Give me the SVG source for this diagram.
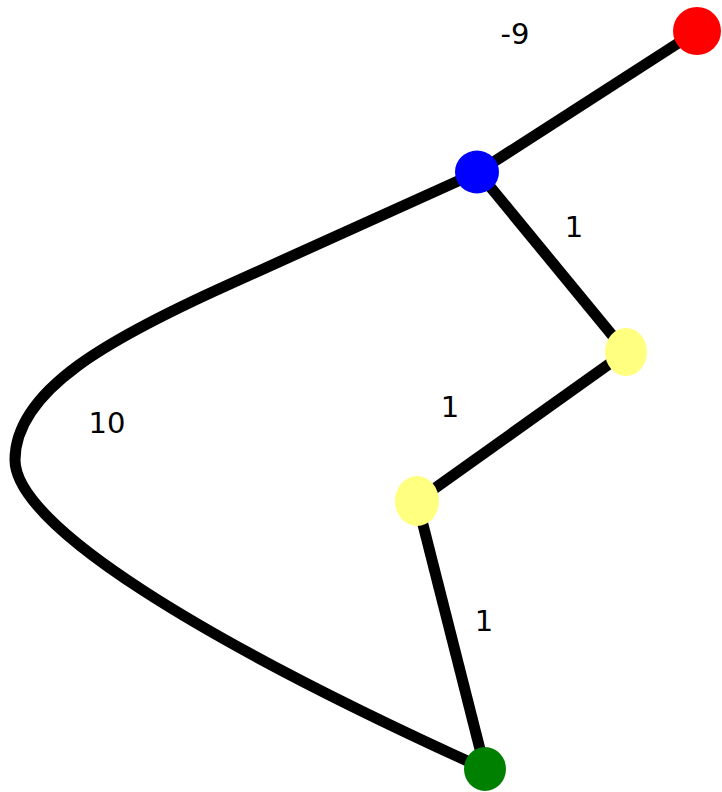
<svg xmlns="http://www.w3.org/2000/svg" width="722" height="792" viewBox="0 0 722 792">
<style>
.edge{fill:none;stroke:#000;stroke-width:11;stroke-linecap:butt}
.lbl{font-family:"DejaVu Sans",sans-serif;font-size:29px;fill:#000;text-anchor:middle}
</style>
<rect width="722" height="792" fill="#fff"/>
<g id="edges">
<line class="edge" x1="478" y1="172" x2="697" y2="31"/>
<line class="edge" x1="478" y1="172" x2="626" y2="352"/>
<line class="edge" x1="626" y1="352" x2="417" y2="501"/>
<line class="edge" x1="417" y1="501" x2="485" y2="769"/>
<path class="edge" d="M478,172 L230,284 C110,338 15,390 15,460 C15,525 200,640 485,769"/>
<text class="lbl" x="515" y="44">-9</text>
<text class="lbl" x="574" y="237">1</text>
<text class="lbl" x="450" y="417">1</text>
<text class="lbl" x="484" y="631">1</text>
<text class="lbl" x="107" y="433">10</text>
</g>
<g id="n_red"><ellipse cx="697" cy="31" rx="24" ry="24" fill="#ff0000"/></g>
<g id="n_blue"><ellipse cx="477" cy="172" rx="22" ry="21.5" fill="#0000ff"/></g>
<g id="n_yellow1"><ellipse cx="626" cy="352" rx="21" ry="24" fill="#ffff80"/></g>
<g id="n_yellow2"><ellipse cx="417" cy="501" rx="22" ry="25" fill="#ffff80"/></g>
<g id="n_green"><ellipse cx="485" cy="769" rx="21" ry="22" fill="#008000"/></g>
</svg>
